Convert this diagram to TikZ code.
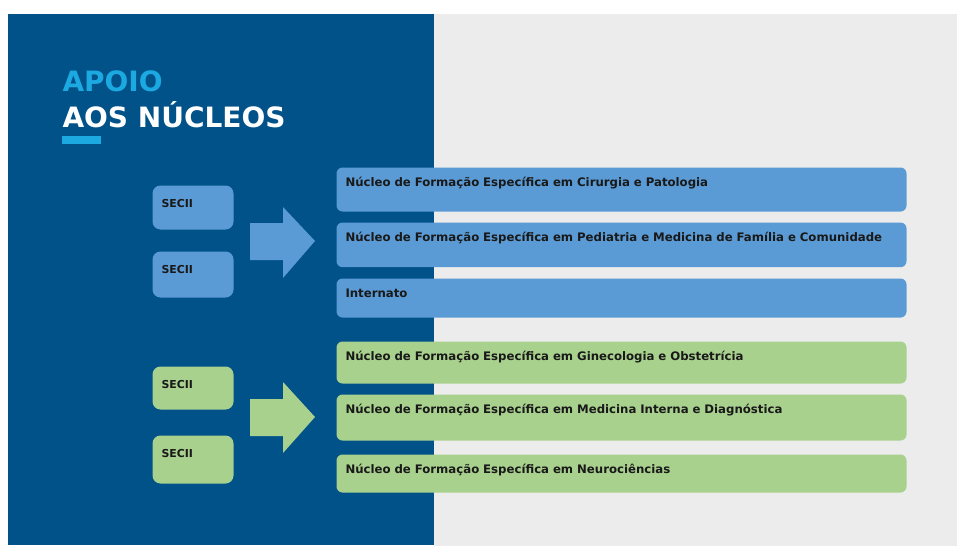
\documentclass[tikz,border=0pt]{standalone}
\usepackage{fontspec}
\setmainfont{DejaVu Sans}
\definecolor{paneldark}{RGB}{0,82,137}
\definecolor{panelgray}{RGB}{236,236,236}
\definecolor{titlecyan}{RGB}{28,168,224}
\definecolor{boxblue}{RGB}{91,155,213}
\definecolor{boxgreen}{RGB}{169,209,142}
\definecolor{txtdark}{RGB}{25,25,25}

\tikzset{every picture/.style={line width=0.75pt}}
\tikzset{
  nucleo/.style={anchor=north west, rounded corners=4.5, inner xsep=6.75pt, inner ysep=0pt,
    text width=414pt, text height=14.5pt, align=left, text=txtdark,
    font=\fontsize{8.8}{10}\selectfont\bfseries},
  secii/.style={anchor=north west, rounded corners=6, inner xsep=6.75pt, inner ysep=0pt,
    text width=47.25pt, text height=16.5pt, align=left, text=txtdark,
    font=\fontsize{8.2}{9}\selectfont\bfseries},
  title/.style={anchor=base west, inner sep=0pt, font=\fontsize{21}{24}\selectfont\bfseries},
}

\begin{document}
\begin{tikzpicture}[x=0.75pt,y=0.75pt,yscale=-1,xscale=1]
\useasboundingbox (0,0) rectangle (957,546);
\fill[white] (0,0) rectangle (957,546);

%Shape: Rectangle [id:panel_gray]
\fill[panelgray] (434,14) rectangle (957,546);
%Shape: Rectangle [id:panel_dark]
\fill[paneldark] (8,14) rectangle (434,545);

% Text Node
\node[title, text=titlecyan] (apoio) at (62,91) {APOIO};
% Text Node
\node[title, text=white] (nucleos) at (62,127) {AOS NÚCLEOS};
%Shape: Rectangle [id:title_bar]
\fill[titlecyan] (62,136) rectangle (101,144);

%Rounded Rect [id:secii_blue]
\node[secii, fill=boxblue, text depth=16.5pt] (sbA) at (152,185) {SECII};
\node[secii, fill=boxblue, text depth=18pt] (sbB) at (152,251) {SECII};

%Shape: Right Arrow [id:arrow_blue]
\fill[boxblue] (250,223) -- (283,223) -- (283,207) -- (315,241) -- (283,278) -- (283,260) -- (250,260) -- cycle;

%Rounded Rect [id:nucleo_blue]
\node[nucleo, fill=boxblue, text depth=18.5pt] (nbA) at (336,167) {Núcleo de Formação Específica em Cirurgia e Patologia};
\node[nucleo, fill=boxblue, text depth=19pt] (nbB) at (336,222) {Núcleo de Formação Específica em Pediatria e Medicina de Família e Comunidade};
\node[nucleo, fill=boxblue, text depth=14.75pt] (nbC) at (336,278) {Internato};

%Rounded Rect [id:secii_green]
\node[secii, fill=boxgreen, text depth=15.75pt] (sgA) at (152,366) {SECII};
\node[secii, fill=boxgreen, text depth=19.5pt] (sgB) at (152,435) {SECII};

%Shape: Right Arrow [id:arrow_green]
\fill[boxgreen] (250,399) -- (283,399) -- (283,382) -- (315,417) -- (283,453) -- (283,436) -- (250,436) -- cycle;

%Rounded Rect [id:nucleo_green]
\node[nucleo, fill=boxgreen, text depth=17pt] (ngA) at (336,341) {Núcleo de Formação Específica em Ginecologia e Obstetrícia};
\node[nucleo, fill=boxgreen, text depth=20pt] (ngB) at (336,394) {Núcleo de Formação Específica em Medicina Interna e Diagnóstica};
\node[nucleo, fill=boxgreen, text depth=14pt] (ngC) at (336,454) {Núcleo de Formação Específica em Neurociências};

\end{tikzpicture}
\end{document}
